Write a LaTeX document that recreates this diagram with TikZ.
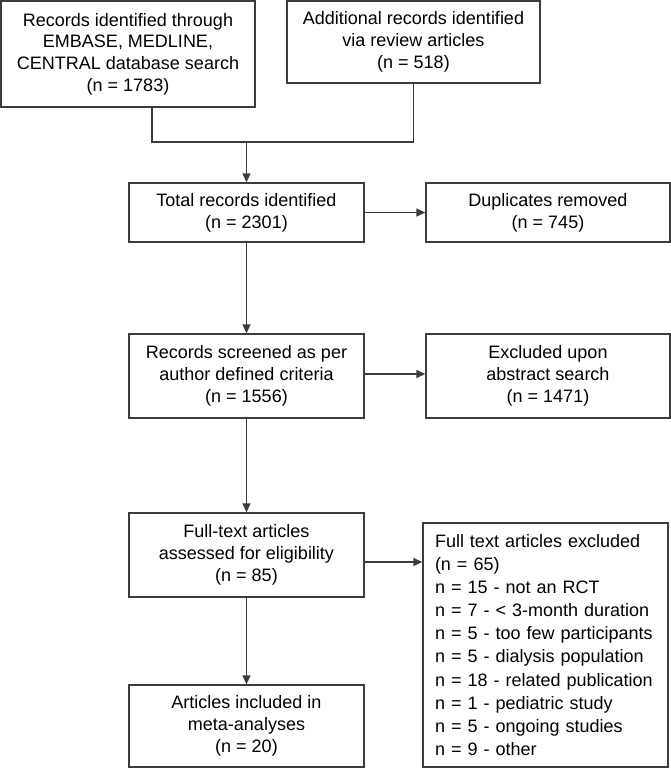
\documentclass[tikz,border=0pt]{standalone}
\usepackage{fontspec}
\setmainfont{Liberation Sans}
\usepackage{tikz}
\usetikzlibrary{arrows.meta}
\definecolor{linegray}{RGB}{60,60,60}
\newcommand{\listfont}{\fontsize{18pt}{23.1pt}\selectfont\hyphenpenalty=10000\relax}
\tikzstyle{flowbox} = [draw=linegray, line width=1.3pt, fill=white,
    rectangle, align=center, inner sep=0pt,
    font=\fontsize{18pt}{21.7pt}\selectfont]
\tikzstyle{listbox} = [draw=linegray, line width=1.3pt, fill=white,
    rectangle, align=left, inner xsep=12pt, inner ysep=0pt, text width=221pt,
    minimum height=244pt, font=\listfont]
\tikzstyle{arr} = [draw=linegray, line width=1.3pt, -{Triangle[length=9pt,width=8pt]}]
\tikzstyle{lin} = [draw=linegray, line width=1.3pt]

\begin{document}
\begin{tikzpicture}[x=1pt, y=-1pt]
                \useasboundingbox (0,0) rectangle (671,769);
                % top row
                \node [flowbox, minimum width=254pt, minimum height=106pt] (srch) at (128,54)
                    {Records identified through\\EMBASE, MEDLINE,\\CENTRAL database search\\(n = 1783)};
                \node [flowbox, minimum width=253pt, minimum height=82pt] (rev) at (413.5,42)
                    {Additional records identified\\via review articles\\(n = 518)};
                % main column
                \node [flowbox, minimum width=235pt, minimum height=59pt] (tot) at (246.5,212.5)
                    {Total records identified\\(n = 2301)};
                \node [flowbox, minimum width=235pt, minimum height=84pt] (scr) at (246.5,376)
                    {Records screened as per\\author defined criteria\\(n = 1556)};
                \node [flowbox, minimum width=235pt, minimum height=84pt] (full) at (246.5,555)
                    {Full-text articles\\assessed for eligibility\\(n = 85)};
                \node [flowbox, minimum width=235pt, minimum height=82pt] (incl) at (246.5,726)
                    {Articles included in\\meta-analyses\\(n = 20)};
                % exclusions
                \node [flowbox, minimum width=244pt, minimum height=59pt] (dup) at (548,212.5)
                    {Duplicates removed\\(n = 745)};
                \node [flowbox, minimum width=244pt, minimum height=84pt] (exab) at (548,376)
                    {Excluded upon\\abstract search\\(n = 1471)};
                \node [listbox] (fexc) at (545.5,645)
                    {Full text articles excluded\\(n = 65)\\n = 15 - not an RCT\\n = 7 - < 3-month duration\\n = 5 - too few participants\\n = 5 - dialysis population\\n = 18 - related publication\\n = 1 - pediatric study\\n = 5 - ongoing studies\\n = 9 - other};
                % connectors
                \coordinate (join) at (246.5,142);
                \draw [lin] ([xshift=24pt]srch.south) |- (join);
                \draw [lin] (rev.south) |- (join);
                \draw [arr] (join) -- (tot.north);
                \draw [arr] (tot) -- (scr);
                \draw [arr] (scr) -- (full);
                \draw [arr] (full) -- (incl);
                \draw [arr] (tot) -- (dup);
                \draw [arr] ([yshift=2pt]scr.east) -- ([yshift=2pt]scr.east -| exab.west);
                \draw [arr] ([yshift=-7pt]full.east) -- ([yshift=-7pt]full.east -| fexc.west);
            \end{tikzpicture}
\end{document}
